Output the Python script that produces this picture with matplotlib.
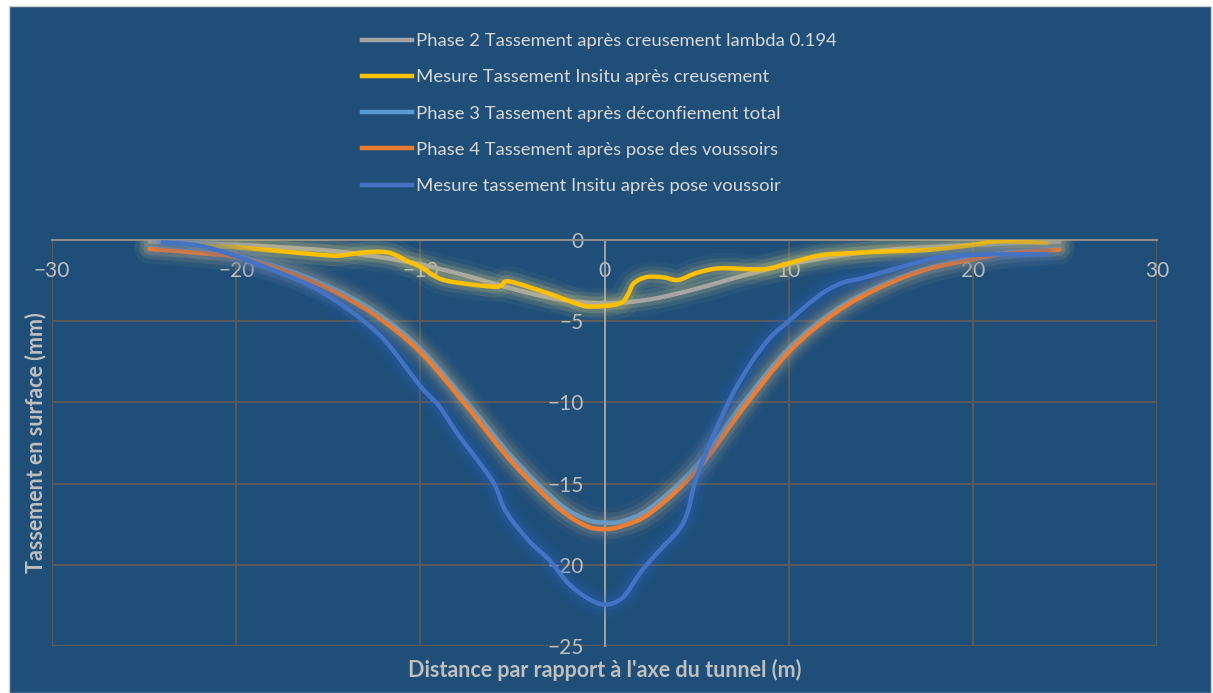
import matplotlib
matplotlib.use("Agg")
import matplotlib.pyplot as plt
import matplotlib.patheffects as pe
from matplotlib.patches import Rectangle, PathPatch
from matplotlib.path import Path
from matplotlib.lines import Line2D

# values (mm of settlement vs distance to the tunnel axis, m)
x_phase2 = [-24.7, -22, -20, -17.5, -15, -12.5, -10, -7.5, -5, -2.5, 0,
            2.5, 5, 7.5, 10, 12.5, 15, 17.5, 20, 22, 24.7]
y_phase2 = [-0.1, -0.2, -0.3, -0.45, -0.65, -1.0, -1.5, -2.2, -3.0, -3.65, -3.9,
            -3.65, -3.0, -2.2, -1.5, -1.0, -0.65, -0.45, -0.3, -0.2, -0.1]

x_insitu1 = [-22, -20, -17.5, -15, -14.3, -13.2, -12.2, -11.5, -10.7, -10, -8.9, -7.5,
             -5.8, -5.4, -4.9, -3.1, -1.3, -0.6, 0.5, 1.0, 1.3, 1.6, 2.3, 3.2, 4.0,
             5.0, 6.3, 8.6, 10, 11.7, 13.5, 15, 17.7, 20, 21.1, 22.5, 24]
y_insitu1 = [-0.35, -0.45, -0.7, -0.95, -0.95, -0.78, -0.72, -0.85, -1.3, -1.65, -2.4, -2.7,
             -2.87, -2.56, -2.62, -3.27, -4.0, -4.1, -4.0, -3.8, -3.3, -2.65, -2.28, -2.3, -2.46,
             -2.03, -1.74, -1.8, -1.43, -0.95, -0.8, -0.72, -0.6, -0.3, -0.1, -0.1, -0.2]

x_phase3 = [-24.7, -22, -20, -17.5, -15, -12.5, -10, -7.5, -5, -2.5, -1, 0,
            1, 2.5, 5, 7.5, 10, 12.5, 15, 17.5, 20, 22, 24.7]
y_phase3 = [-0.5, -0.75, -1.0, -1.75, -2.85, -4.4, -6.7, -9.95, -13.4, -16.2, -17.2, -17.4,
            -17.3, -16.5, -13.9, -10.1, -6.7, -4.35, -2.8, -1.75, -1.1, -0.75, -0.55]

x_phase4 = [-24.7, -22, -20, -17.5, -15, -12.5, -10, -7.5, -5, -2.5, -1, 0,
            1, 2.5, 5, 7.5, 10, 12.5, 15, 17.5, 20, 22, 24.7]
y_phase4 = [-0.55, -0.8, -1.05, -1.85, -3.0, -4.6, -6.9, -10.2, -13.7, -16.5, -17.6, -17.8,
            -17.6, -16.8, -14.2, -10.4, -6.9, -4.5, -2.9, -1.8, -1.2, -0.8, -0.6]

x_insitu2 = [-24, -22, -20, -18, -16, -14, -12, -10, -9, -8, -7, -6, -5.5, -5, -4, -3,
             -2, -1, 0, 1, 2, 3, 4, 4.5, 5, 6, 7, 8, 9, 10, 11, 12, 13, 14, 16, 18,
             20, 22, 24]
y_insitu2 = [-0.15, -0.35, -1.0, -1.85, -2.8, -4.2, -6.1, -9.0, -10.2, -11.9, -13.4, -15.0,
             -16.4, -17.3, -18.65, -19.7, -21.1, -22.0, -22.45, -22.0, -20.4, -19.1, -17.9,
             -16.8, -14.6, -11.8, -9.4, -7.5, -6.0, -5.0, -4.0, -3.15, -2.6, -2.35, -1.7,
             -1.1, -0.92, -0.88, -0.88]

labels = ["Phase 2 Tassement après creusement lambda 0.194",
          "Mesure Tassement Insitu après creusement",
          "Phase 3 Tassement après déconfiement total",
          "Phase 4 Tassement après pose des voussoirs",
          "Mesure tassement Insitu après pose voussoir"]
colors = ["#A5A5A5", "#FFC000", "#5B9BD5", "#ED7D31", "#4472C4"]
glows = ["#C8C27A", "#C8C27A", "#9A9A8A", "#9A9A8A", "#2E66C0"]


def smooth_path(xs, ys):
    # Excel-style "smoothed line": bezier segments through the data points
    # (Catmull-Rom control points), drawn by matplotlib in data coordinates
    n = len(xs)
    verts = [(xs[0], ys[0])]
    codes = [Path.MOVETO]
    for i in range(n - 1):
        i0 = max(i - 1, 0)
        i3 = min(i + 2, n - 1)
        c1 = (xs[i] + (xs[i + 1] - xs[i0]) / 6, ys[i] + (ys[i + 1] - ys[i0]) / 6)
        c2 = (xs[i + 1] - (xs[i3] - xs[i]) / 6, ys[i + 1] - (ys[i3] - ys[i]) / 6)
        verts += [c1, c2, (xs[i + 1], ys[i + 1])]
        codes += [Path.CURVE4] * 3
    return Path(verts, codes)


plt.rcParams['font.family'] = ['Lato', 'DejaVu Sans']

bg = "#1F4E79"
fig = plt.figure(figsize=(12.13, 6.93), dpi=100)
fig.patch.set_facecolor("white")
fig.patches.append(Rectangle((9 / 1213, 0), 1202 / 1213, 687 / 693, transform=fig.transFigure,
                             facecolor=bg, edgecolor="#D0D0D0", lw=1, zorder=-5))

ax = fig.add_axes([52 / 1213, 1 - 646 / 693, (1157 - 52) / 1213, (646 - 240) / 693])
ax.set_facecolor("none")
ax.set_zorder(2)

series = [(x_phase2, y_phase2), (x_insitu1, y_insitu1), (x_phase3, y_phase3),
          (x_phase4, y_phase4), (x_insitu2, y_insitu2)]
handles = []
for i, (xs, ys) in enumerate(series):
    glow = [pe.Stroke(linewidth=22, foreground=glows[i], alpha=0.06),
            pe.Stroke(linewidth=15, foreground=glows[i], alpha=0.11),
            pe.Stroke(linewidth=9, foreground=glows[i], alpha=0.18),
            pe.Normal()]
    patch = PathPatch(smooth_path(xs, ys), transform=ax.transData, fill=False,
                      edgecolor=colors[i], lw=3.2, capstyle="round", joinstyle="round",
                      zorder=3 + i, path_effects=glow)
    ax.add_patch(patch)
    handles.append(Line2D([], [], color=colors[i], lw=3.2))

ax.set_xlim(-30, 30)
ax.set_ylim(-25, 0)
ax.set_xticks([-30, -20, -10, 0, 10, 20, 30])
ax.set_yticks([0, -5, -10, -15, -20, -25])
ax.grid(True, color="#595959", lw=1.5, zorder=1)
ax.set_axisbelow(True)

for s in ["top", "right"]:
    ax.spines[s].set_visible(False)
ax.spines["left"].set_position(("data", 0))
ax.spines["bottom"].set_position(("data", 0))
ax.spines["left"].set_color("#A6A6A6")
ax.spines["bottom"].set_color("#8C8C8C")
ax.spines["left"].set_linewidth(1.3)
ax.spines["bottom"].set_linewidth(1.5)
ax.tick_params(axis="both", length=0, pad=15, labelsize=15, labelcolor="#BFBFBF")

fig.text(604.5 / 1213, 1 - 670 / 693, "Distance par rapport à l'axe du tunnel (m)",
         ha="center", va="center", fontsize=15.5, fontweight="bold", color="#BFBFBF")
fig.text(36 / 1213, 1 - 443 / 693, "Tassement en surface (mm)", rotation=90,
         ha="center", va="center", fontsize=15.5, fontweight="bold", color="#BFBFBF")

leg = fig.legend(handles, labels, loc="upper left", bbox_to_anchor=(362 / 1213, 1 - 33 / 693),
                 frameon=False, fontsize=13.3, handlelength=2.7, handletextpad=0.25,
                 labelspacing=1.1, borderpad=0, borderaxespad=0)
for t in leg.get_texts():
    t.set_color("#D9D9D9")

fig.savefig("out.png", dpi=100, facecolor=fig.get_facecolor())
